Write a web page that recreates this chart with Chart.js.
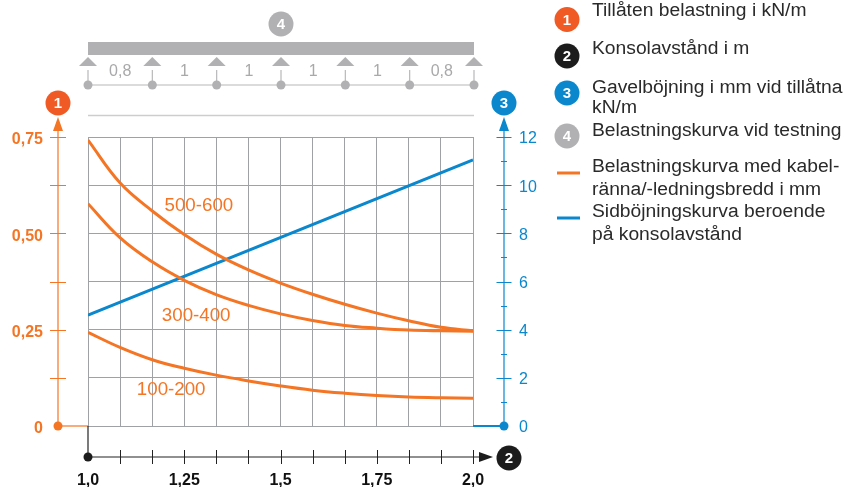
<!DOCTYPE html>
<html>
<head>
<meta charset="utf-8">
<script src="https://cdn.jsdelivr.net/npm/chart.js@4.4.1/dist/chart.umd.min.js"></script>
<style>
  html, body { margin: 0; padding: 0; background: #fff; }
</style>
</head>
<body>
<canvas id="chart" width="844" height="487"></canvas>
<script>
// konsolavstånd (m) at each grid column
const spans = [1.0, 1.083, 1.167, 1.25, 1.333, 1.417, 1.5, 1.583, 1.667, 1.75, 1.833, 1.917, 2.0];
// tillåten belastning kN/m per kabelrännebredd
const load500_600 = [0.742, 0.631, 0.558, 0.497, 0.446, 0.405, 0.371, 0.342, 0.316, 0.293, 0.273, 0.256, 0.247];
const load300_400 = [0.577, 0.489, 0.426, 0.378, 0.341, 0.313, 0.291, 0.274, 0.261, 0.254, 0.249, 0.247, 0.246];
const load100_200 = [0.243, 0.204, 0.172, 0.150, 0.132, 0.117, 0.104, 0.093, 0.085, 0.079, 0.075, 0.073, 0.072];
// sidböjning mm
const bendSpans = [1.0, 2.0];
const bendMm = [4.6, 11.05];

const curveNames = ["500-600", "300-400", "100-200"];
const curveLabelX = [1.288, 1.281, 1.216];
const curveLabelY = [0.572, 0.286, 0.094];

const beamSpans = ["0,8", "1", "1", "1", "1", "0,8"];

const legendRows = [
  { mark: "1", lines: ["Tillåten belastning i kN/m"] },
  { mark: "2", lines: ["Konsolavstånd i m"] },
  { mark: "3", lines: ["Gavelböjning i mm vid tillåtna", "kN/m"] },
  { mark: "4", lines: ["Belastningskurva vid testning"] },
  { mark: "orange", lines: ["Belastningskurva med kabel-", "ränna/-ledningsbredd i mm"] },
  { mark: "blue", lines: ["Sidböjningskurva beroende", "på konsolavstånd"] }
];

const ORANGE = "#f47524";
const RED = "#f05a24";
const BLUE = "#0a87cd";
const GREY = "#b1b1b4";
const INK = "#2a2a2a";
const FONT = '"Liberation Sans", Arial, sans-serif';

function pts(xs, ys) {
  return xs.map((x, i) => ({ x, y: ys[i] }));
}

function badge(ctx, x, y, fill, txt) {
  ctx.beginPath();
  ctx.arc(x, y, 12.5, 0, Math.PI * 2);
  ctx.fillStyle = fill;
  ctx.fill();
  ctx.fillStyle = "#fff";
  ctx.font = "bold 15px " + FONT;
  ctx.textAlign = "center";
  ctx.textBaseline = "middle";
  ctx.fillText(txt, x, y + 1);
}

function wideText(ctx, txt, x, y, sx) {
  ctx.save();
  ctx.translate(x, y);
  ctx.scale(sx, 1);
  ctx.fillText(txt, 0, 0);
  ctx.restore();
}

function line(ctx, x1, y1, x2, y2, color, w) {
  ctx.beginPath();
  ctx.moveTo(x1, y1);
  ctx.lineTo(x2, y2);
  ctx.strokeStyle = color;
  ctx.lineWidth = w;
  ctx.stroke();
}

function dot(ctx, x, y, r, color) {
  ctx.beginPath();
  ctx.arc(x, y, r, 0, Math.PI * 2);
  ctx.fillStyle = color;
  ctx.fill();
}

function tri(ctx, a, b, c, color) {
  ctx.beginPath();
  ctx.moveTo(a[0], a[1]);
  ctx.lineTo(b[0], b[1]);
  ctx.lineTo(c[0], c[1]);
  ctx.closePath();
  ctx.fillStyle = color;
  ctx.fill();
}

const decor = {
  id: "decor",
  afterDraw(chart) {
    const ctx = chart.ctx;
    const area = chart.chartArea;
    const xs = chart.scales.x, ys = chart.scales.y, ys1 = chart.scales.y1;
    const y0 = ys.getPixelForValue(0);
    ctx.save();

    // left axis (kN/m)
    const lx = area.left - 30;
    line(ctx, lx, y0, lx, 128, ORANGE, 1.2);
    tri(ctx, [lx, 117], [lx - 5, 131], [lx + 5, 131], ORANGE);
    ys.ticks.forEach(t => {
      if (t.value === 0) return;
      const py = Math.round(ys.getPixelForValue(t.value)) + 0.5;
      line(ctx, lx - 8, py, lx + 8, py, ORANGE, 1);
    });
    line(ctx, lx, y0, area.left, y0, ORANGE, 1.2);
    dot(ctx, lx, y0, 4.5, ORANGE);
    badge(ctx, lx, 103, RED, "1");

    // right axis (mm)
    const rx = area.right + 31;
    line(ctx, rx, y0, rx, 128, BLUE, 1.2);
    tri(ctx, [rx, 117], [rx - 5, 131], [rx + 5, 131], BLUE);
    ys1.ticks.forEach(t => {
      if (t.value === 0) return;
      const py = Math.round(ys1.getPixelForValue(t.value)) + 0.5;
      const half = t.value % 2 === 0 ? 7.5 : 3;
      line(ctx, rx - half, py, rx + half, py, BLUE, 1);
    });
    line(ctx, area.right, y0, rx, y0, BLUE, 2);
    dot(ctx, rx, y0, 4.5, BLUE);
    badge(ctx, rx, 103, BLUE, "3");

    // bottom axis (m)
    const by = area.bottom + 31;
    line(ctx, area.left, y0, area.left, by, "#222", 1.2);
    line(ctx, area.left, by, area.right + 8, by, "#222", 1.2);
    tri(ctx, [area.right + 20, by], [area.right + 6, by - 5], [area.right + 6, by + 5], "#1c1c1c");
    xs.ticks.forEach((t, i) => {
      if (i === 0) return;
      const px = Math.round(xs.getPixelForValue(t.value)) + 0.5;
      line(ctx, px, by - 7, px, by + 7, "#222", 1);
    });
    dot(ctx, area.left, by, 4.5, "#1c1c1c");
    badge(ctx, area.right + 36, by + 1, "#1c1c1c", "2");

    // test beam sketch
    const bl = area.left, br = area.right + 1;
    ctx.fillStyle = GREY;
    ctx.fillRect(bl, 42, br - bl, 13);
    line(ctx, bl, 85, br, 85, "#b8b8ba", 1.2);
    const step = (br - bl) / beamSpans.length;
    for (let i = 0; i <= beamSpans.length; i++) {
      const px = bl + i * step;
      tri(ctx, [px, 57], [px - 9, 66], [px + 9, 66], GREY);
      line(ctx, px, 70, px, 81, "#b8b8ba", 1.2);
      dot(ctx, px, 85, 4.5, GREY);
    }
    ctx.fillStyle = "#a9a9ab";
    ctx.font = "16px " + FONT;
    ctx.textAlign = "center";
    ctx.textBaseline = "middle";
    beamSpans.forEach((s, i) => ctx.fillText(s, bl + (i + 0.5) * step, 72));
    line(ctx, bl, 115.5, br, 115.5, "#cdcdcf", 1.5);
    badge(ctx, (bl + br) / 2, 24, GREY, "4");

    // curve labels
    ctx.fillStyle = ORANGE;
    ctx.font = "18px " + FONT;
    ctx.textAlign = "center";
    ctx.textBaseline = "middle";
    curveNames.forEach((n, i) => {
      wideText(ctx, n, xs.getPixelForValue(curveLabelX[i]), ys.getPixelForValue(curveLabelY[i]), 1.04);
    });

    // legend
    const markX = 567, textX = 592;
    const baselines = [[15.5], [54], [92.5, 113], [136], [171.5, 194.5], [216.5, 239.5]];
    const markY = [19.5, 56, 93, 136, 173, 218];
    const markFill = { "1": RED, "2": "#1c1c1c", "3": BLUE, "4": GREY };
    legendRows.forEach((row, i) => {
      if (markFill[row.mark]) {
        badge(ctx, markX, markY[i], markFill[row.mark], row.mark);
      } else {
        line(ctx, 557, markY[i], 580, markY[i], row.mark === "orange" ? ORANGE : BLUE, 3);
      }
      ctx.fillStyle = INK;
      ctx.font = "18px " + FONT;
      ctx.textAlign = "left";
      ctx.textBaseline = "alphabetic";
      row.lines.forEach((t, j) => wideText(ctx, t, textX, baselines[i][j], 1.07));
    });

    ctx.restore();
  }
};

function gridTicks(min, max, n) {
  return scale => {
    scale.ticks = [];
    for (let i = 0; i <= n; i++) scale.ticks.push({ value: min + (max - min) * i / n });
  };
}

function near(v, q) {
  return Math.abs(v / q - Math.round(v / q)) < 1e-6;
}

new Chart(document.getElementById("chart"), {
  type: "line",
  data: {
    datasets: [
      { data: pts(spans, load500_600), borderColor: ORANGE, yAxisID: "y" },
      { data: pts(spans, load300_400), borderColor: ORANGE, yAxisID: "y" },
      { data: pts(spans, load100_200), borderColor: ORANGE, yAxisID: "y" },
      { data: pts(bendSpans, bendMm), borderColor: BLUE, yAxisID: "y1", tension: 0 }
    ]
  },
  options: {
    responsive: false,
    animation: false,
    layout: { padding: { top: 137, left: 0, right: 0, bottom: 0 } },
    elements: {
      point: { radius: 0 },
      line: { borderWidth: 3, tension: 0.4, fill: false, borderCapStyle: "butt" }
    },
    plugins: { legend: { display: false }, tooltip: { enabled: false } },
    scales: {
      x: {
        type: "linear",
        min: 1,
        max: 2,
        afterBuildTicks: gridTicks(1, 2, 12),
        afterFit: s => { s.height = 61; },
        grid: { color: "#9ea2a7", lineWidth: 1, drawTicks: false },
        border: { display: false },
        ticks: {
          padding: 45,
          color: "#111",
          font: { family: FONT, size: 16, weight: "bold" },
          autoSkip: false,
          maxRotation: 0,
          callback: v => {
            if (!near(v, 0.25)) return "";
            let s = String(Math.round(v * 100) / 100);
            if (s.indexOf(".") < 0) s += ".0";
            return s.replace(".", ",");
          }
        }
      },
      y: {
        position: "left",
        min: 0,
        max: 0.75,
        afterBuildTicks: gridTicks(0, 0.75, 6),
        afterFit: s => { s.width = 88; },
        grid: { color: "#9ea2a7", lineWidth: 1, drawTicks: false },
        border: { display: false },
        ticks: {
          padding: 45,
          labelOffset: 3,
          color: ORANGE,
          font: { family: FONT, size: 16, weight: "bold" },
          autoSkip: false,
          callback: v => {
            if (!near(v, 0.25)) return "";
            return v === 0 ? "0" : v.toFixed(2).replace(".", ",");
          }
        }
      },
      y1: {
        position: "right",
        min: 0,
        max: 12,
        afterBuildTicks: gridTicks(0, 12, 12),
        afterFit: s => { s.width = 371; },
        grid: { display: false, drawTicks: false },
        border: { display: false },
        ticks: {
          padding: 46,
          labelOffset: 2,
          color: BLUE,
          font: { family: FONT, size: 16 },
          autoSkip: false,
          callback: v => (v % 2 === 0 ? String(v) : "")
        }
      }
    }
  },
  plugins: [decor]
});
</script>
</body>
</html>
